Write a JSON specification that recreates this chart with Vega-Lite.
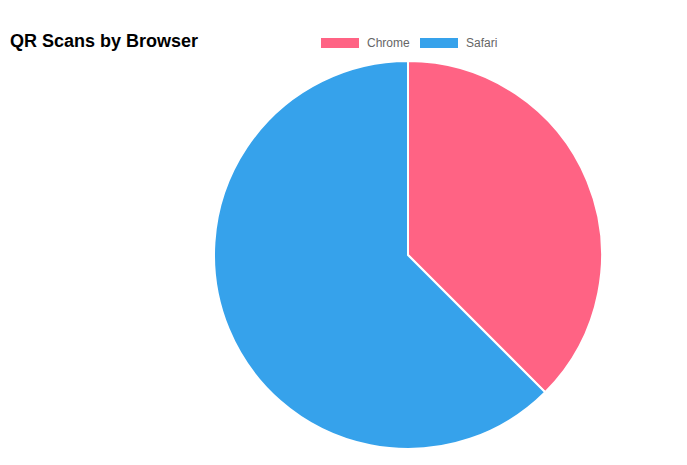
{
  "$schema": "https://vega.github.io/schema/vega-lite/v6.json",
  "autosize": "none",
  "width": 558,
  "height": 420,
  "padding": {"left": 129, "right": 0, "top": 45, "bottom": 0},
  "background": "white",
  "title": {
    "text": "QR Scans by Browser",
    "anchor": "start",
    "font": "Liberation Sans",
    "fontSize": 18,
    "fontWeight": "bold",
    "color": "black",
    "baseline": "alphabetic",
    "offset": 0,
    "dx": -119,
    "dy": 41
  },
  "data": {
    "values": [
      {"browser": "Chrome", "scans": 3},
      {"browser": "Safari", "scans": 5}
    ]
  },
  "mark": {"type": "arc", "outerRadius": 194, "stroke": "white", "strokeWidth": 2},
  "encoding": {
    "theta": {"field": "scans", "type": "quantitative", "stack": true},
    "order": {"field": "browser", "sort": "ascending"},
    "color": {
      "field": "browser",
      "type": "nominal",
      "scale": {"domain": ["Chrome", "Safari"], "range": ["#FF6384", "#36A2EB"]},
      "legend": {
        "title": null,
        "orient": "none",
        "direction": "horizontal",
        "legendX": 192,
        "legendY": -21,
        "symbolType": "M-1,-0.26H1V0.26H-1Z",
        "symbolSize": 1444,
        "symbolStrokeWidth": 0,
        "symbolOpacity": 1,
        "labelFont": "Liberation Sans",
        "labelFontSize": 12,
        "labelColor": "#666666",
        "labelOffset": 8,
        "columnPadding": 10
      }
    },
    "tooltip": [
      {"field": "browser", "type": "nominal", "title": "Browser"},
      {"field": "scans", "type": "quantitative", "title": "Scans"}
    ]
  }
}
